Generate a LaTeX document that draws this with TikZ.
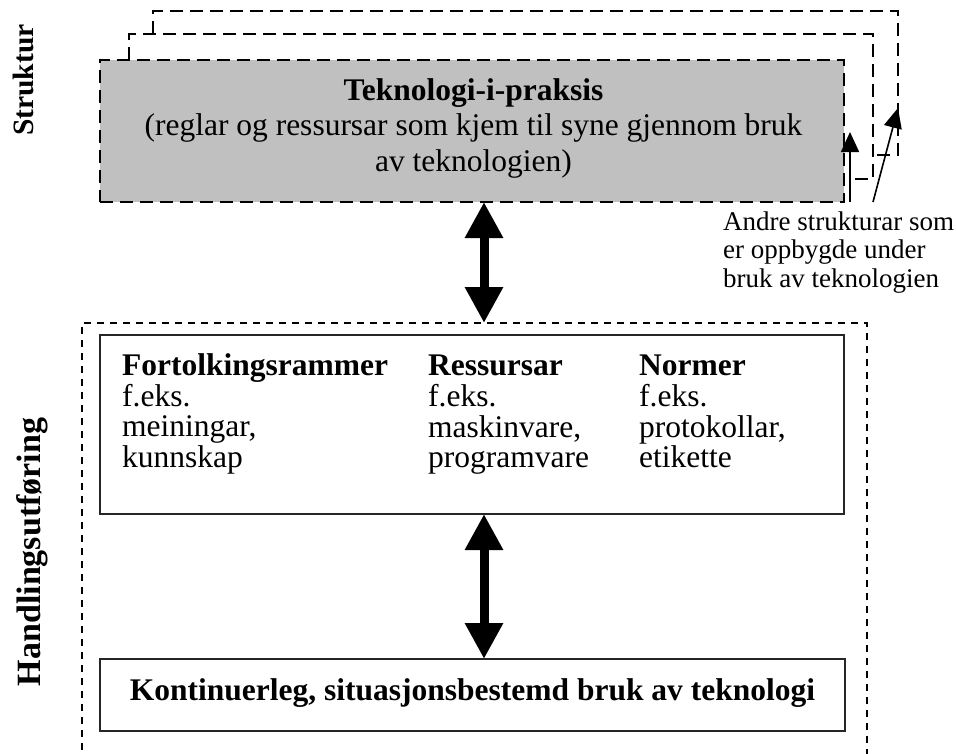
\documentclass[tikz,border=0pt]{standalone}
\usepackage{fontspec}
\setmainfont{Liberation Serif}
\usetikzlibrary{arrows.meta}
\definecolor{boxgray}{RGB}{192,192,192}
\begin{document}
\begin{tikzpicture}[x=1pt,y=-1pt,
  longdash/.style={line width=2pt, dash pattern=on 13pt off 7pt},
  shortdash/.style={line width=2.4pt, dash pattern=on 7pt off 6pt},
  graybox/.style={draw, longdash, fill=boxgray, inner sep=0pt, outer sep=0pt},
  outerbox/.style={draw, shortdash, inner sep=0pt, outer sep=0pt},
  solidbox/.style={draw=black!85, line width=2pt, inner sep=0pt, outer sep=0pt},
  txt/.style={inner sep=0pt, font=\fontsize{31.5}{30}\selectfont},
  sidelabel/.style={inner sep=0pt, rotate=90, anchor=base},
  bigarrow/.style={line width=9pt, {Triangle[width=36pt,length=36pt]}-{Triangle[width=36pt,length=36pt]}},
  smallarrow/.style={line width=1.6pt, -{Triangle[width=18pt,length=20pt]}}
]
\useasboundingbox (0,0) rectangle (956,753);

% stacked structures behind
\draw[longdash] (153,34) -- (153,11) -- (898,11) -- (898,155) -- (876,155);
\draw[longdash] (129,60) -- (129,34) -- (873,34) -- (873,179) -- (852,179);

% Teknologi-i-praksis
\node[graybox, minimum width=744pt, minimum height=142pt] (praksis) at (472,131) {};
\node[txt, anchor=base, font=\fontsize{31.5}{35.5}\selectfont] (praksistxt) at (473.5,100)
  {\begin{tabular}[t]{@{}c@{}}\textbf{Teknologi-i-praksis}\\ (reglar og ressursar som kjem til syne gjennom bruk\\ av teknologien)\end{tabular}};

% Handlingsutforing region
\node[outerbox, minimum width=785pt, minimum height=480pt] (handling) at (474.5,563) {};

% inner box with three columns
\node[solidbox, minimum width=744pt, minimum height=179pt] (rammer) at (472,424.5) {};
\node[txt, anchor=base west] (col1) at (122,375)
  {\begin{tabular}[t]{@{}l@{}}\textbf{Fortolkingsrammer}\\ f.eks.\\ meiningar,\\ kunnskap\end{tabular}};
\node[txt, anchor=base west] (col2) at (428,375)
  {\begin{tabular}[t]{@{}l@{}}\textbf{Ressursar}\\ f.eks.\\ maskinvare,\\ programvare\end{tabular}};
\node[txt, anchor=base west] (col3) at (639,375)
  {\begin{tabular}[t]{@{}l@{}}\textbf{Normer}\\ f.eks.\\ protokollar,\\ etikette\end{tabular}};

% bottom box
\node[solidbox, minimum width=745pt, minimum height=72pt] (bruk) at (472.5,695) {};
\node[txt, anchor=base] (bruktxt) at (472.5,700)
  {\textbf{Kontinuerleg, situasjonsbestemd bruk av teknologi}};

% side labels
\node[sidelabel, font=\bfseries\fontsize{29.5}{30}\selectfont] (struktur) at (33,80) {Struktur};
\node[sidelabel, font=\bfseries\fontsize{34}{30}\selectfont] (handlingslabel) at (40,552) {Handlingsutføring};

% other structures label
\node[inner sep=0pt, anchor=base west, font=\fontsize{27}{28.5}\selectfont] (andre) at (723,230)
  {\begin{tabular}[t]{@{}l@{}}Andre strukturar som\\ er oppbygde under\\ bruk av teknologien\end{tabular}};

% big double arrows
\coordinate (ax) at (484,0);
\draw[bigarrow] (praksis.south -| ax) -- (handling.north -| ax);
\draw[bigarrow] (rammer.south -| ax) -- (bruk.north -| ax);

% small arrows
\coordinate (e1) at (850,132);
\coordinate (s2) at (873,202);
\coordinate (e2) at (898,108);
\draw[smallarrow] (praksis.south -| e1) -- (e1);
\draw[smallarrow] (s2) -- (e2);
\end{tikzpicture}
\end{document}
